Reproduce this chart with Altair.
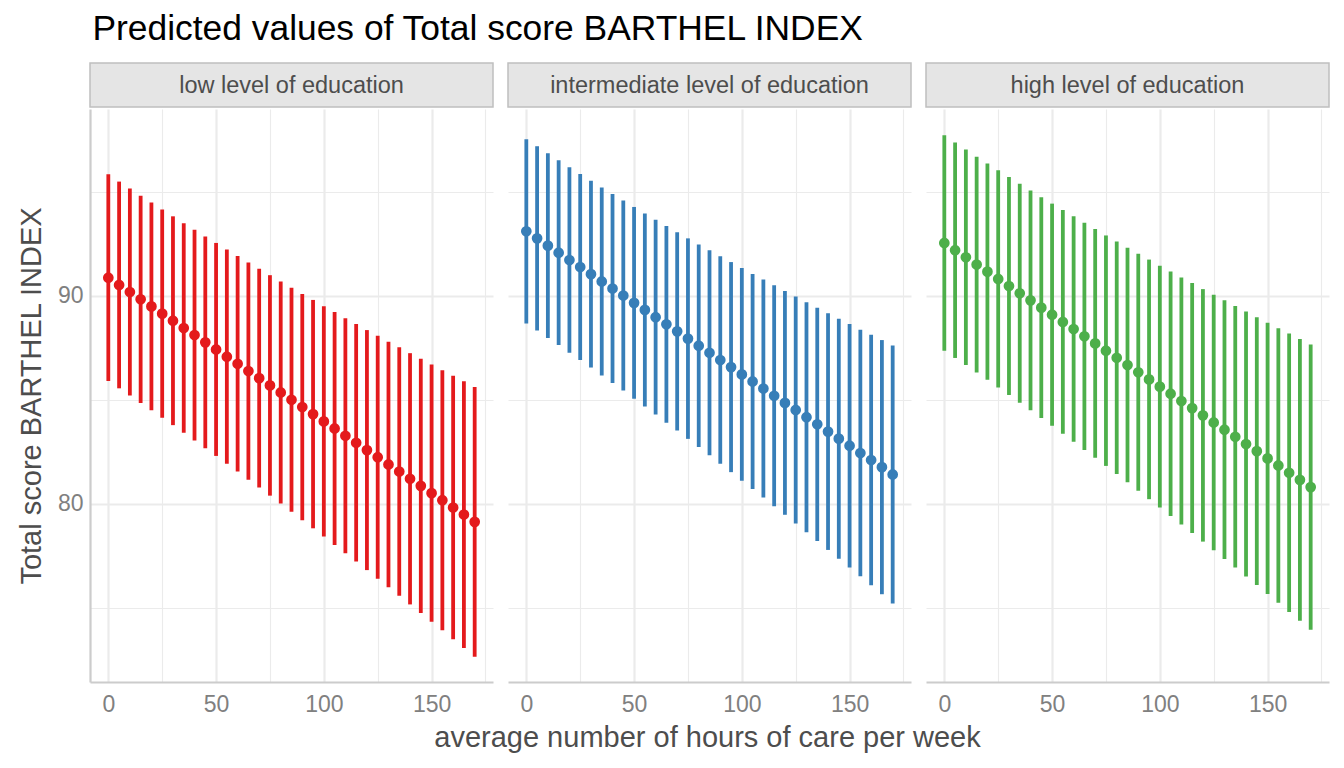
import altair as alt
import pandas as pd

hours = [0, 5, 10, 15, 20, 25, 30, 35, 40, 45, 50, 55, 60, 65, 70, 75, 80, 85,
         90, 95, 100, 105, 110, 115, 120, 125, 130, 135, 140, 145, 150, 155, 160, 165, 170]

groups = ["low level of education", "intermediate level of education", "high level of education"]
colors = ["#E41A1C", "#377EB8", "#4DAF4A"]

low_pred = [90.87, 90.52, 90.18, 89.83, 89.49, 89.14, 88.80, 88.45, 88.11, 87.76, 87.42, 87.07, 86.73, 86.38, 86.04, 85.69, 85.35, 85.00, 84.65, 84.31, 83.96, 83.62, 83.27, 82.93, 82.58, 82.24, 81.89, 81.55, 81.20, 80.86, 80.51, 80.17, 79.82, 79.48, 79.13]
low_lo = [85.90, 85.55, 85.20, 84.85, 84.50, 84.13, 83.78, 83.41, 83.04, 82.67, 82.30, 81.92, 81.55, 81.16, 80.78, 80.39, 80.01, 79.61, 79.21, 78.82, 78.42, 78.02, 77.62, 77.22, 76.81, 76.40, 75.99, 75.58, 75.16, 74.75, 74.33, 73.92, 73.49, 73.07, 72.65]
low_hi = [95.84, 95.49, 95.16, 94.81, 94.48, 94.15, 93.82, 93.49, 93.18, 92.85, 92.54, 92.22, 91.91, 91.60, 91.30, 90.99, 90.69, 90.39, 90.09, 89.80, 89.50, 89.22, 88.92, 88.64, 88.35, 88.08, 87.79, 87.52, 87.24, 86.97, 86.69, 86.42, 86.15, 85.89, 85.61]

mid_pred = [93.10, 92.76, 92.41, 92.07, 91.72, 91.38, 91.04, 90.69, 90.35, 90.01, 89.66, 89.32, 88.97, 88.63, 88.29, 87.94, 87.60, 87.26, 86.91, 86.57, 86.22, 85.88, 85.54, 85.19, 84.85, 84.51, 84.16, 83.82, 83.47, 83.13, 82.79, 82.44, 82.10, 81.76, 81.41]
mid_lo = [88.67, 88.33, 87.97, 87.63, 87.26, 86.91, 86.55, 86.17, 85.81, 85.44, 85.05, 84.68, 84.29, 83.90, 83.52, 83.12, 82.73, 82.33, 81.92, 81.52, 81.11, 80.71, 80.30, 79.88, 79.47, 79.05, 78.63, 78.21, 77.78, 77.36, 76.94, 76.51, 76.08, 75.65, 75.21]
mid_hi = [97.53, 97.19, 96.85, 96.51, 96.18, 95.85, 95.53, 95.21, 94.89, 94.58, 94.27, 93.96, 93.65, 93.36, 93.06, 92.76, 92.47, 92.19, 91.90, 91.62, 91.33, 91.05, 90.78, 90.50, 90.23, 89.97, 89.69, 89.43, 89.16, 88.90, 88.64, 88.37, 88.12, 87.87, 87.61]

high_pred = [92.54, 92.19, 91.85, 91.50, 91.16, 90.81, 90.47, 90.12, 89.78, 89.43, 89.09, 88.74, 88.40, 88.05, 87.71, 87.36, 87.02, 86.67, 86.32, 85.98, 85.63, 85.29, 84.94, 84.60, 84.25, 83.91, 83.56, 83.22, 82.87, 82.53, 82.18, 81.84, 81.49, 81.15, 80.80]
high_lo = [87.36, 87.01, 86.67, 86.31, 85.96, 85.59, 85.23, 84.86, 84.50, 84.12, 83.75, 83.36, 82.98, 82.59, 82.21, 81.82, 81.43, 81.03, 80.62, 80.22, 79.82, 79.41, 79.00, 78.59, 78.18, 77.77, 77.34, 76.93, 76.50, 76.09, 75.66, 75.24, 74.80, 74.38, 73.94]
high_hi = [97.72, 97.37, 97.03, 96.69, 96.36, 96.03, 95.71, 95.38, 95.06, 94.74, 94.43, 94.12, 93.82, 93.51, 93.21, 92.90, 92.61, 92.31, 92.02, 91.74, 91.44, 91.17, 90.88, 90.61, 90.32, 90.05, 89.78, 89.51, 89.24, 88.97, 88.70, 88.44, 88.18, 87.92, 87.66]

x_grid = [0, 25, 50, 75, 100, 125, 150, 175]
y_grid = [75, 80, 85, 90, 95]
x_title = ["average number of hours of care per week"]

preds = [low_pred, mid_pred, high_pred]
los = [low_lo, mid_lo, high_lo]
his = [low_hi, mid_hi, high_hi]

W, H, SH, GAP = 403, 573, 44, 13
FONT = "Liberation Sans"

xscale = alt.Scale(domain=[-8.5, 178.5], nice=False, zero=False)
yscale = alt.Scale(domain=[71.43, 98.98], nice=False, zero=False)


def make_panel(i):
    df = pd.DataFrame({"x": hours, "pred": preds[i], "lo": los[i], "hi": his[i]})
    xaxis = alt.Axis(
        values=x_grid,
        labelExpr="datum.value % 50 === 0 ? datum.label : ''",
        ticks=False, domain=True, domainColor="#CCCCCC", domainWidth=2.2,
        gridColor="#EBEBEB",
        gridWidth={"condition": {"test": "datum.value % 50 === 0", "value": 2.2}, "value": 1.1},
        labelFontSize=23, labelColor="#808080", labelPadding=11, labelFont=FONT,
        labelFlush=False, labelOverlap=False,
        title=None,
    )
    if i == 0:
        yaxis = alt.Axis(
            values=y_grid,
            labelExpr="datum.value % 10 === 0 ? datum.label : ''",
            ticks=False, domain=True, domainColor="#CCCCCC", domainWidth=2.2,
            gridColor="#EBEBEB",
            gridWidth={"condition": {"test": "datum.value % 10 === 0", "value": 2.2}, "value": 1.1},
            labelFontSize=23, labelColor="#808080", labelPadding=7, labelFont=FONT,
            labelOverlap=False, labelFlush=False,
            title="Total score BARTHEL INDEX",
            titleFontSize=29, titleColor="#4D4D4D", titleFontWeight="normal", titleFont=FONT,
            titlePadding=11,
        )
    else:
        yaxis = alt.Axis(
            values=y_grid, labels=False, ticks=False, domain=False,
            gridColor="#EBEBEB",
            gridWidth={"condition": {"test": "datum.value % 10 === 0", "value": 2.2}, "value": 1.1},
            title=None,
        )
    base = alt.Chart(df)
    rules = base.mark_rule(strokeWidth=3.8, color=colors[i]).encode(
        x=alt.X("x:Q", scale=xscale, axis=xaxis),
        y=alt.Y("lo:Q", scale=yscale, axis=yaxis),
        y2="hi:Q",
    )
    pts = base.mark_circle(size=115, opacity=1, color=colors[i]).encode(
        x=alt.X("x:Q", scale=xscale),
        y=alt.Y("pred:Q", scale=yscale),
    )
    plot = alt.layer(rules, pts).properties(width=W, height=H)

    sdf = pd.DataFrame({"label": [groups[i]]})
    sbase = alt.Chart(sdf)
    box = sbase.mark_rect(fill="#E5E5E5", stroke="#BFBFBF", strokeWidth=1.5).encode(
        x=alt.value(0), x2=alt.value(W), y=alt.value(0), y2=alt.value(SH)
    )
    txt = sbase.mark_text(fontSize=23.5, color="#4D4D4D", font=FONT, baseline="middle", align="center").encode(
        text="label:N", x=alt.value(W / 2), y=alt.value(SH / 2 + 1)
    )
    strip = alt.layer(box, txt).properties(width=W, height=SH)
    return alt.vconcat(strip, plot, spacing=1)


panels = alt.hconcat(*[make_panel(i) for i in range(3)], spacing=GAP)

TW = 3 * W + 2 * GAP
xt = alt.Chart(pd.DataFrame({"t": x_title})).mark_text(
    fontSize=29, color="#4D4D4D", font=FONT, baseline="middle", align="center"
).encode(text="t:N", x=alt.value(TW / 2), y=alt.value(22)).properties(width=TW, height=36)

chart = alt.vconcat(panels, xt, spacing=0).properties(
    title=alt.TitleParams(
        "Predicted values of Total score BARTHEL INDEX",
        anchor="start", fontSize=35.4, fontWeight="normal", color="black", font=FONT,
        offset=15, dx=75,
    ),
    padding={"left": 9, "top": 3, "right": 3, "bottom": 0},
).configure_view(stroke=None).configure_concat(spacing=13)

chart.save("out.html", embed_options={"renderer": "svg", "actions": False})
